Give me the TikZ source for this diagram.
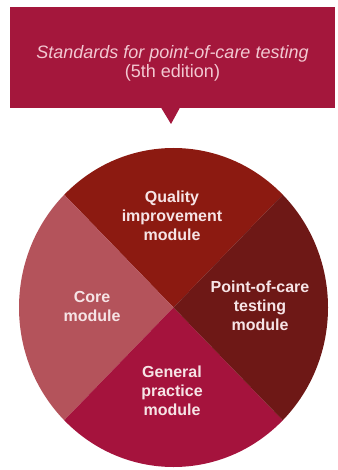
\documentclass[tikz,border=0pt]{standalone}
\usepackage{fontspec}
\setmainfont{Liberation Sans}
\usetikzlibrary{positioning}

\definecolor{bannerred}{HTML}{A4173C}
\definecolor{qualityred}{HTML}{8C1A11}
\definecolor{pocred}{HTML}{6E1816}
\definecolor{corerose}{HTML}{B4535B}
\definecolor{gpred}{HTML}{A5133D}
\definecolor{labelwhite}{HTML}{F6E4E6}
\definecolor{bannertext}{HTML}{F2C8D1}

\tikzset{
    modlabel/.style={align=center, text=labelwhite, font=\fontsize{16}{19}\selectfont\bfseries},
}

\begin{document}
\begin{tikzpicture}[x=1pt, y=-1pt]
    \useasboundingbox (0,0) rectangle (337,470);

    % Draw banner
    \fill[bannerred] (10,7) rectangle (335,108);
    \fill[bannerred] (161,107.5) -- (171,124) -- (180,107.5) -- cycle;
    \node[align=center, text=bannertext, font=\fontsize{18}{19}\selectfont]
        (title) at (172.5,63) {\itshape Standards for point-of-care testing\\(5th edition)};

    % Draw pie
    \coordinate (c) at (173.5,307.5);
    \fill[qualityred] (c) -- ++(45:154.5 and -159.5) arc[start angle=45, end angle=135, x radius=154.5, y radius=-159.5] -- cycle;
    \fill[corerose] (c) -- ++(135:154.5 and -159.5) arc[start angle=135, end angle=225, x radius=154.5, y radius=-159.5] -- cycle;
    \fill[gpred] (c) -- ++(225:154.5 and -159.5) arc[start angle=225, end angle=315, x radius=154.5, y radius=-159.5] -- cycle;
    \fill[pocred] (c) -- ++(315:154.5 and -159.5) arc[start angle=315, end angle=405, x radius=154.5, y radius=-159.5] -- cycle;

    % Draw labels
    \node[modlabel] (quality) at (172,216) {Quality\\improvement\\module};
    \node[modlabel] (poc) at (260,306) {Point-of-care\\testing\\module};
    \node[modlabel] (core) at (92,306) {Core\\module};
    \node[modlabel] (gp) at (172,391) {General\\practice\\module};
\end{tikzpicture}
\end{document}
